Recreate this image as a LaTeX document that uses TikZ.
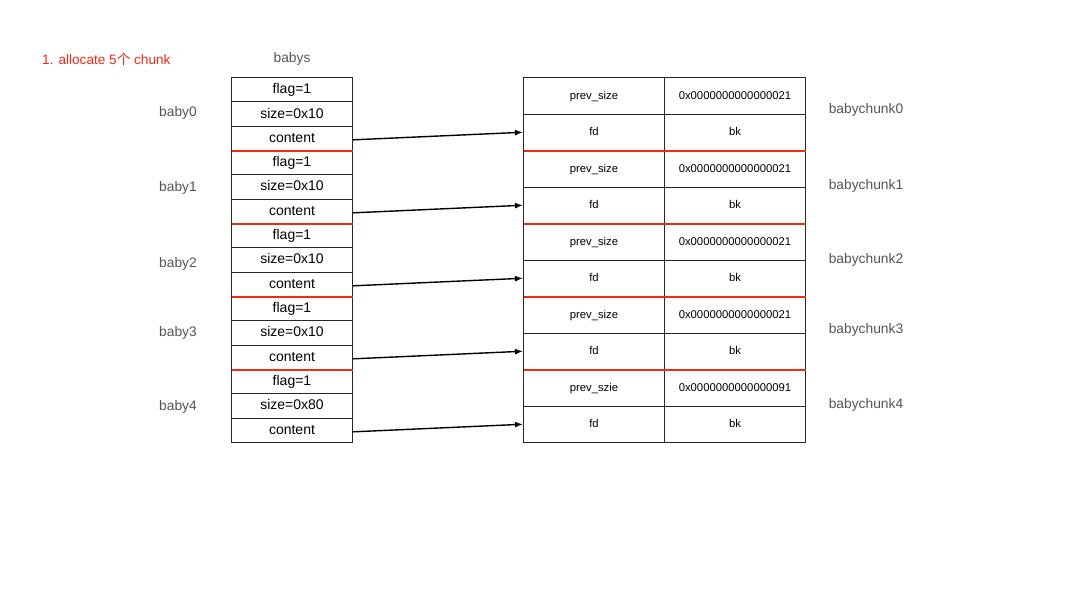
\documentclass[tikz,border=0pt]{standalone}
\usepackage{fontspec}
\setmainfont{Liberation Sans}
\newfontfamily\cjk{Noto Sans CJK SC}
\usetikzlibrary{arrows.meta}
\definecolor{lbl}{HTML}{555555}
\definecolor{redl}{HTML}{F52A14}
\begin{document}
\begin{tikzpicture}[x=1pt,y=-1pt,
  lcell/.style={draw=black!85,line width=1pt,minimum width=121pt,minimum height=24.33pt,inner sep=0pt,anchor=north west,font=\fontsize{14}{16}\selectfont,text height=11pt,text depth=3pt},
  rcell/.style={draw=black!85,line width=1pt,minimum width=141pt,minimum height=36.5pt,inner sep=0pt,anchor=north west,font=\fontsize{11.3}{13}\selectfont,text height=9pt,text depth=2pt},
  lab/.style={text=lbl,font=\fontsize{13.8}{16}\selectfont,inner sep=0pt},
  redline/.style={draw=redl,line width=1.2pt},
  ptr/.style={-{Latex[length=8pt,width=6pt]},line width=1.4pt,black}]
\useasboundingbox (0,0) rectangle (1080,608);
\fill[white] (0,0) rectangle (1080,608);
\node[anchor=west,text=redl,font=\fontsize{13.6}{16}\selectfont,inner sep=0pt] (title) at (42,59) {1. allocate 5{\cjk 个} chunk};
\node[lab] (babys) at (292,59) {babys};
% left table
\foreach \t [count=\i from 0] in {flag=1,size=0x10,content,flag=1,size=0x10,content,flag=1,size=0x10,content,flag=1,size=0x10,content,flag=1,size=0x80,content}{
  \node[lcell] (l\i) at (231,77+\i*24.333) {\t};
}
% right table
\foreach \a/\b [count=\i from 0] in {prev\_size/0x0000000000000021,fd/bk,prev\_size/0x0000000000000021,fd/bk,prev\_size/0x0000000000000021,fd/bk,prev\_size/0x0000000000000021,fd/bk,prev\_szie/0x0000000000000091,fd/bk}{
  \node[rcell] (ra\i) at (523,77+\i*36.5) {\a};
  \node[rcell] (rb\i) at (664,77+\i*36.5) {\b};
}
% red separators
\foreach \k in {2,5,8,11}{
  \draw[redline] ([xshift=0.5pt]l\k.south west) -- ([xshift=-0.5pt]l\k.south east);
}
\foreach \k in {1,3,5,7}{
  \draw[redline] ([xshift=0.5pt]ra\k.south west) -- ([xshift=-0.5pt]rb\k.south east);
}
% labels
\node[lab] (b0) at (178,113) {baby0};
\node[lab] (b1) at (178,188) {baby1};
\node[lab] (b2) at (178,264) {baby2};
\node[lab] (b3) at (178,333) {baby3};
\node[lab] (b4) at (178,407) {baby4};
\node[lab] (c0) at (866,110) {babychunk0};
\node[lab] (c1) at (866,186) {babychunk1};
\node[lab] (c2) at (866,260) {babychunk2};
\node[lab] (c3) at (866,330) {babychunk3};
\node[lab] (c4) at (866,405) {babychunk4};
% pointers
\draw[ptr] ([yshift=-1.5pt]l2.east) -- (ra1.west);
\draw[ptr] ([yshift=-1.5pt]l5.east) -- (ra3.west);
\draw[ptr] ([yshift=-1.5pt]l8.east) -- (ra5.west);
\draw[ptr] ([yshift=-1.5pt]l11.east) -- (ra7.west);
\draw[ptr] ([yshift=-1.5pt]l14.east) -- (ra9.west);
\end{tikzpicture}
\end{document}
